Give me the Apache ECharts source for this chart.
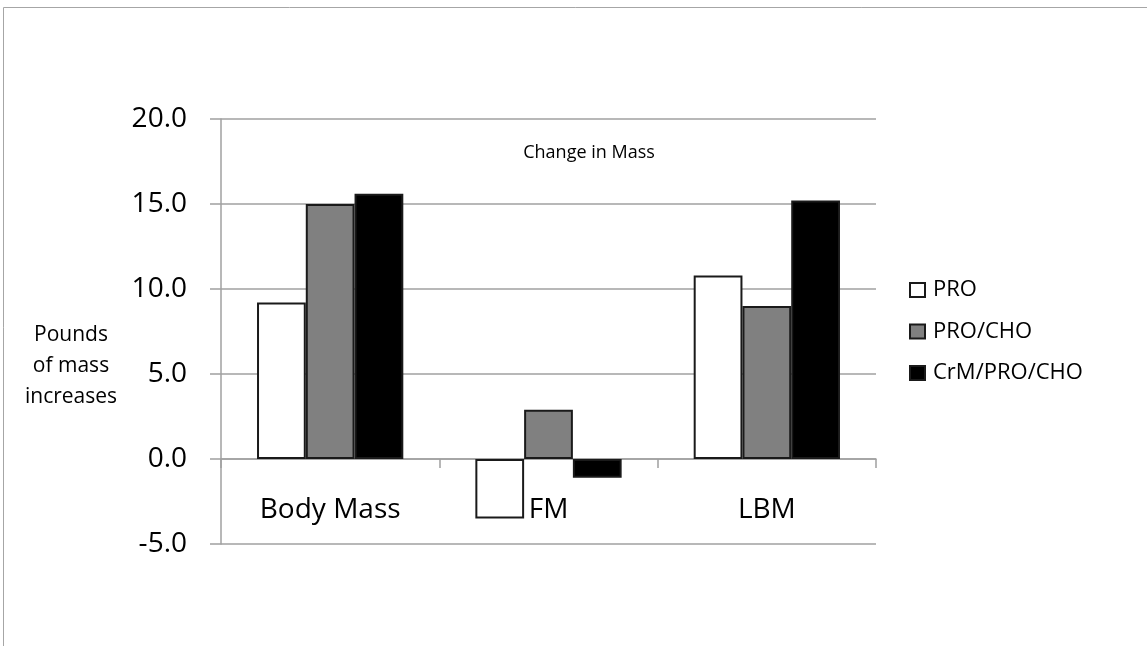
<!DOCTYPE html>
<html>
<head>
<meta charset="utf-8">
<script src="https://cdn.jsdelivr.net/npm/echarts@6/dist/echarts.min.js"></script>
<style>
html,body{margin:0;padding:0;background:#fff;}
#chart{width:1147px;height:646px;}
</style>
</head>
<body>
<div id="chart"></div>
<script>
const categories = ['Body Mass', 'FM', 'LBM'];
const seriesNames = ['PRO', 'PRO/CHO', 'CrM/PRO/CHO'];
const proValues = [9.2, -3.5, 10.8];
const proChoValues = [15.0, 2.9, 9.0];
const crmValues = [15.6, -1.1, 15.2];
const yTicks = [-5, 0, 5, 10, 15, 20];
const chartTitle = 'Change in Mass';
const yAxisTitle = 'Pounds\nof mass\nincreases';

const FONT = 'Open Sans';
const chart = echarts.init(document.getElementById('chart'), null, {renderer: 'canvas'});

const fills = ['#ffffff', '#808080', '#000000'];
const valuesList = [proValues, proChoValues, crmValues];

chart.setOption({
  animation: false,
  backgroundColor: '#ffffff',
  graphic: [
    {type: 'rect', shape: {x: 3.5, y: 7.5, width: 1160, height: 660}, style: {fill: 'none', stroke: '#a6a6a6', lineWidth: 1}, silent: true},
    {type: 'text', style: {text: yAxisTitle, x: 71, y: 366, fontFamily: FONT, fontSize: 21, fill: '#000', align: 'center', verticalAlign: 'middle', lineHeight: 31}},
    {type: 'text', style: {text: chartTitle, x: 589, y: 153, fontFamily: FONT, fontSize: 18, fill: '#000', align: 'center', verticalAlign: 'middle'}}
  ],
  grid: {left: 221, right: 1147 - 876, top: 119, bottom: 646 - 544, containLabel: false},
  legend: {
    orient: 'vertical',
    left: 904,
    top: 274,
    itemGap: 19.5,
    itemWidth: 15,
    itemHeight: 14,
    icon: 'rect',
    data: seriesNames,
    textStyle: {fontFamily: FONT, fontSize: 22, lineHeight: 22, color: '#000', padding: [0,0,0,3]}
  },
  xAxis: {
    type: 'category',
    data: categories,
    boundaryGap: true,
    axisLine: {onZero: true, lineStyle: {color: '#a0a0a0', width: 1.5}},
    axisTick: {show: true, length: 9, alignWithLabel: false, lineStyle: {color: '#a0a0a0', width: 1.5}},
    axisLabel: {margin: -48, fontFamily: FONT, fontSize: 28, color: '#000'},
    splitLine: {show: false}
  },
  yAxis: {
    type: 'value',
    min: -5,
    max: 20,
    interval: 5,
    axisLine: {show: true, lineStyle: {color: '#a0a0a0', width: 1.5}},
    axisTick: {show: true, inside: false, length: 11, lineStyle: {color: '#a0a0a0', width: 1.5}},
    axisLabel: {margin: 34, fontFamily: FONT, fontSize: 28, color: '#000', formatter: v => v.toFixed(1)},
    splitLine: {show: true, lineStyle: {color: '#a0a0a0', width: 1.5}}
  },
  series: seriesNames.map((name, i) => ({
    name: name,
    type: 'bar',
    data: valuesList[i],
    barGap: '0%',
    barCategoryGap: '33%',
    itemStyle: {color: fills[i], borderColor: '#1a1a1a', borderWidth: 2}
  }))
});
</script>
</body>
</html>
